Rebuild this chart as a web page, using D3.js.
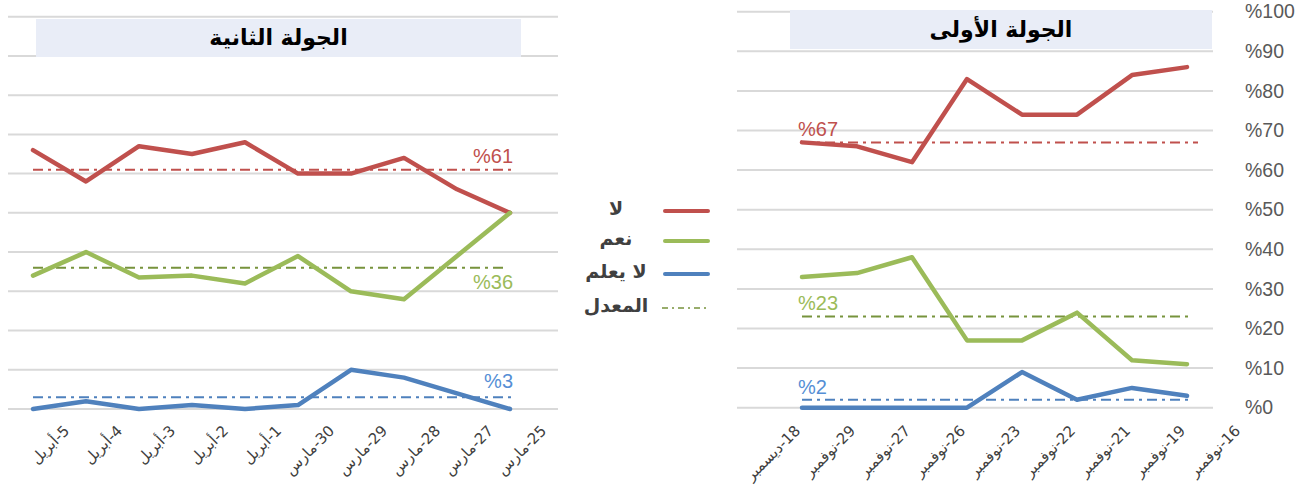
<!DOCTYPE html>
<html><head><meta charset="utf-8">
<script src="https://cdn.jsdelivr.net/npm/d3@7"></script>
<style>body{margin:0;background:#fff} svg{display:block}</style>
</head><body>
<svg id="c" width="1313" height="501"></svg>
<script>
// ---- data ----
const leftCategories = ["5-أبريل","4-أبريل","3-أبريل","2-أبريل","1-أبريل","30-مارس","29-مارس","28-مارس","27-مارس","25-مارس"];
const leftNo = [66, 58, 67, 65, 68, 60, 60, 64, 56, 50];
const leftYes = [34, 40, 33.5, 34, 32, 39, 30, 28, 39, 50];
const leftDontKnow = [0, 2, 0, 1, 0, 1, 10, 8, 4, 0];
const leftAverages = [61, 36, 3];

const rightCategories = ["18-ديسمبر","29-نوفمبر","27-نوفمبر","26-نوفمبر","23-نوفمبر","22-نوفمبر","21-نوفمبر","19-نوفمبر","16-نوفمبر"];
const rightNo = [67, 66, 62, 83, 74, 74, 84, 86, null];
const rightYes = [33, 34, 38, 17, 17, 24, 12, 11, null];
const rightDontKnow = [0, 0, 0, 0, 9, 2, 5, 3, null];
const rightAverages = [67, 23, 2];

const yTicks = [0,10,20,30,40,50,60,70,80,90,100];
const yTickLabels = ["%0","%10","%20","%30","%40","%50","%60","%70","%80","%90","%100"];
const titles = ["الجولة الثانية", "الجولة الأولى"];
const legendLabels = ["لا", "نعم", "لا يعلم", "المعدل"];

// ---- styles ----
const seriesColors = ["#C0504D", "#9BBB59", "#4F81BD"];
const avgColors = ["#C0504D", "#77933C", "#4F81BD"];
const avgLabelColors = ["#C0504D", "#9BBB59", "#558ED5"];
const arabicFont = "'DejaVu Sans', 'Noto Sans', sans-serif";
const latinFont = "'Liberation Sans', Arial, sans-serif";

const svg = d3.select("#c");

function panel(cfg) {
  const g = svg.append("g");
  const y = d3.scaleLinear().domain([0, 100]).range([cfg.y0, cfg.y100]);
  const x = d3.scalePoint().domain(cfg.categories).range(cfg.xRange);

  // gridlines
  g.append("g").selectAll("line").data(yTicks).join("line")
    .attr("x1", cfg.gridX[0]).attr("x2", cfg.gridX[1])
    .attr("y1", d => y(d)).attr("y2", d => y(d))
    .attr("stroke", "#D9D9D9").attr("stroke-width", 2);

  // title box
  g.append("rect")
    .attr("x", cfg.box[0]).attr("y", cfg.box[1])
    .attr("width", cfg.box[2]).attr("height", cfg.box[3])
    .attr("fill", "#E9EDF7");
  g.append("text")
    .attr("x", cfg.box[0] + cfg.box[2] / 2).attr("y", cfg.box[1] + cfg.box[3] / 2 + 1)
    .attr("text-anchor", "middle").attr("dominant-baseline", "middle")
    .attr("direction", "rtl")
    .style("font-family", arabicFont).style("font-weight", "bold").style("font-size", "22px")
    .attr("fill", "#000").text(cfg.title);

  // average lines
  const first = cfg.categories[0];
  const lastIdx = cfg.series[0].map((v, i) => v == null ? -1 : i).filter(i => i >= 0).pop();
  const last = cfg.categories[lastIdx];
  g.append("g").selectAll("line").data(cfg.averages).join("line")
    .attr("x1", x(first)).attr("x2", (d, i) => x(last) + cfg.avgExtend[i])
    .attr("y1", d => y(d)).attr("y2", d => y(d))
    .attr("stroke", (d, i) => avgColors[i]).attr("stroke-width", 2)
    .attr("stroke-dasharray", "10,5,3,5");

  // series lines
  const line = d3.line().defined(d => d != null)
    .x((d, i) => x(cfg.categories[i])).y(d => y(d));
  g.append("g").selectAll("path").data(cfg.series).join("path")
    .attr("d", d => line(d))
    .attr("fill", "none").attr("stroke", (d, i) => seriesColors[i])
    .attr("stroke-width", 4.5).attr("stroke-linejoin", "round").attr("stroke-linecap", "round");

  // average labels
  g.append("g").selectAll("text").data(cfg.averages).join("text")
    .attr("x", cfg.avgLabelX === "end" ? x(last) + 3 : x(first) - 4)
    .attr("y", (d, i) => y(d) + cfg.avgLabelDy[i])
    .attr("text-anchor", cfg.avgLabelX === "end" ? "end" : "start")
    .attr("fill", (d, i) => avgLabelColors[i])
    .style("font-family", latinFont).style("font-size", "20px")
    .text(d => "%" + d);

  // x axis
  const ax = g.append("g").attr("transform", `translate(0,${cfg.xAxisY})`)
    .call(d3.axisBottom(x).tickSize(0).tickPadding(0));
  ax.select(".domain").remove();
  ax.selectAll("text")
    .attr("x", 0).attr("y", 0).attr("dy", "0.35em")
    .attr("direction", "rtl")
    .attr("text-anchor", "start")
    .attr("transform", `translate(${cfg.labelDx},0) rotate(-45)`)
    .attr("fill", "#404040")
    .style("font-family", arabicFont).style("font-size", "15px");

  return { x, y };
}

// left panel (second round)
panel({
  categories: leftCategories,
  series: [leftNo, leftYes, leftDontKnow],
  averages: leftAverages,
  y0: 409, y100: 16.7,
  xRange: [33, 510],
  gridX: [8, 558],
  box: [36, 19, 485, 38],
  title: titles[0],
  avgExtend: [3, -3, 4],
  avgLabelX: "end",
  avgLabelDy: [-7, 21, -9],
  xAxisY: 428,
  labelDx: 33
});

// right panel (first round)
const R = panel({
  categories: rightCategories,
  series: [rightNo, rightYes, rightDontKnow],
  averages: rightAverages,
  y0: 407.7, y100: 11.7,
  xRange: [802, 1242],
  gridX: [737, 1213],
  box: [790, 10, 422, 39],
  title: titles[1],
  avgExtend: [11, 2, 2],
  avgLabelX: "start",
  avgLabelDy: [-6, -7, -6],
  xAxisY: 428,
  labelDx: -5
});

// right y axis labels
const yAx = svg.append("g").attr("transform", "translate(1245,0)")
  .call(d3.axisRight(R.y).tickValues(yTicks).tickSize(0).tickPadding(0)
    .tickFormat((d, i) => yTickLabels[i]));
yAx.select(".domain").remove();
yAx.selectAll("text").attr("x", 0)
  .attr("fill", "#595959")
  .style("font-family", latinFont).style("font-size", "19.5px");

// legend
const legendY = [211, 241, 274, 308];
const lg = svg.append("g");
lg.selectAll("line").data(legendLabels).join("line")
  .attr("x1", (d, i) => i < 3 ? 665 : 662).attr("x2", 708)
  .attr("y1", (d, i) => legendY[i]).attr("y2", (d, i) => legendY[i])
  .attr("stroke", (d, i) => i < 3 ? seriesColors[i] : avgColors[1])
  .attr("stroke-width", (d, i) => i < 3 ? 4 : 1.5)
  .attr("stroke-linecap", (d, i) => i < 3 ? "round" : "butt")
  .attr("stroke-dasharray", (d, i) => i < 3 ? null : "6,4,2,4");
lg.selectAll("text").data(legendLabels).join("text")
  .attr("x", 616).attr("y", (d, i) => legendY[i] - 2)
  .attr("text-anchor", "middle").attr("dominant-baseline", "middle")
  .attr("direction", "rtl")
  .attr("fill", "#404040")
  .style("font-family", arabicFont).style("font-weight", "bold").style("font-size", "19px")
  .text(d => d);
</script>
</body></html>
